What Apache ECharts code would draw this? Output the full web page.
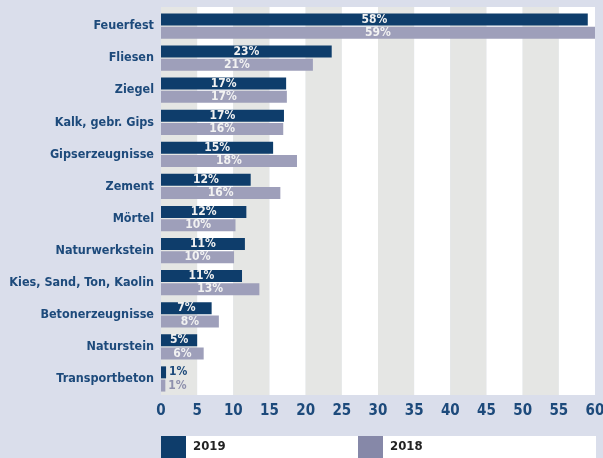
<!DOCTYPE html>
<html>
<head>
<meta charset="utf-8">
<script src="https://cdn.jsdelivr.net/npm/echarts@6/dist/echarts.min.js"></script>
<style>
	html, body { margin: 0; padding: 0; background: #dadeeb; overflow: hidden; }
	#chart { width: 603px; height: 458px; }
</style>
</head>
<body>
<div id="chart"></div>
<script>
var categories = ['Feuerfest', 'Fliesen', 'Ziegel', 'Kalk, gebr. Gips', 'Gipserzeugnisse', 'Zement', 'Mörtel',
	'Naturwerkstein', 'Kies, Sand, Ton, Kaolin', 'Betonerzeugnisse', 'Naturstein', 'Transportbeton'];
var values2019 = [59.0, 23.6, 17.3, 17.0, 15.5, 12.4, 11.8, 11.6, 11.2, 7.0, 5.0, 0.7];
var values2018 = [60.0, 21.0, 17.4, 16.9, 18.8, 16.5, 10.3, 10.1, 13.6, 8.0, 5.9, 0.6];
var labels2019 = ['58%', '23%', '17%', '17%', '15%', '12%', '12%', '11%', '11%', '7%', '5%', '1%'];
var labels2018 = ['59%', '21%', '17%', '16%', '18%', '16%', '10%', '10%', '13%', '8%', '6%', '1%'];
var xTicks = [0, 5, 10, 15, 20, 25, 30, 35, 40, 45, 50, 55, 60];

var font = "'Liberation Sans Narrow', 'DejaVu Sans Condensed', Roboto, sans-serif";
var navy = '#0e3d6b';
var lilac = '#9e9fba';
var textBlue = '#1d4a7b';

function makeData(values, labels, outsideColor) {
	return values.map(function (v, i) {
		var item = { value: v, label: { formatter: labels[i] } };
		if (v < 3) {
			item.label.position = 'right';
			item.label.distance = 3;
			item.label.color = outsideColor;
		}
		return item;
	});
}

var chart = echarts.init(document.getElementById('chart'), null, { renderer: 'canvas' });

chart.setOption({
	backgroundColor: '#dadeeb',
	animation: false,
	textStyle: { fontFamily: font },
	graphic: [
		{ type: 'rect', shape: { x: 161, y: 436, width: 435, height: 22 }, style: { fill: '#ffffff' }, z: -1 }
	],
	legend: [
		{
			left: 161, top: 436, itemWidth: 25, itemHeight: 22, itemGap: 0,
			icon: 'rect',
			textStyle: { fontFamily: font, fontWeight: 'bold', fontSize: 13, color: '#222222', padding: [0, 0, 0, 2] },
			padding: 0,
			data: [{ name: '2019', itemStyle: { color: navy } }]
		},
		{
			left: 358, top: 436, itemWidth: 25, itemHeight: 22, itemGap: 0,
			icon: 'rect',
			textStyle: { fontFamily: font, fontWeight: 'bold', fontSize: 13, color: '#222222', padding: [0, 0, 0, 2] },
			padding: 0,
			data: [{ name: '2018', itemStyle: { color: '#8688a8' } }]
		}
	],
	grid: [
		{ left: 161, right: 8, top: 7, bottom: 63, outerBoundsMode: 'none' },
		{ left: 161, right: 8, top: 10, bottom: 63, outerBoundsMode: 'none' }
	],
	xAxis: [
		{
			gridIndex: 0, type: 'value', min: xTicks[0], max: xTicks[xTicks.length - 1], interval: 5,
			axisLine: { show: false }, axisTick: { show: false }, splitLine: { show: false },
			splitArea: { show: true, areaStyle: { color: ['#e5e6e4', '#ffffff'] } },
			axisLabel: { color: textBlue, fontWeight: 'bold', fontSize: 15, margin: 9, fontFamily: font }
		},
		{
			gridIndex: 1, type: 'value', min: 0, max: 60, show: false,
			splitLine: { show: false }
		}
	],
	yAxis: [
		{ gridIndex: 0, type: 'category', data: categories, show: false },
		{
			gridIndex: 1, type: 'category', data: categories, inverse: true,
			axisLine: { show: false }, axisTick: { show: false },
			axisLabel: { color: textBlue, fontWeight: 'bold', fontSize: 12.5, margin: 7, fontFamily: font }
		}
	],
	series: [
		{
			name: '2019', type: 'bar', xAxisIndex: 1, yAxisIndex: 1,
			barWidth: 12, barGap: '10%',
			itemStyle: { color: navy },
			label: { show: true, position: 'inside', color: '#f2f2f2', fontWeight: 'bold', fontSize: 12, fontFamily: font },
			data: makeData(values2019, labels2019, textBlue)
		},
		{
			name: '2018', type: 'bar', xAxisIndex: 1, yAxisIndex: 1,
			barWidth: 12, barGap: '10%',
			itemStyle: { color: lilac },
			label: { show: true, position: 'inside', color: '#f2f2f2', fontWeight: 'bold', fontSize: 12, fontFamily: font },
			data: makeData(values2018, labels2018, '#8e90ad')
		}
	]
});
</script>
</body>
</html>
